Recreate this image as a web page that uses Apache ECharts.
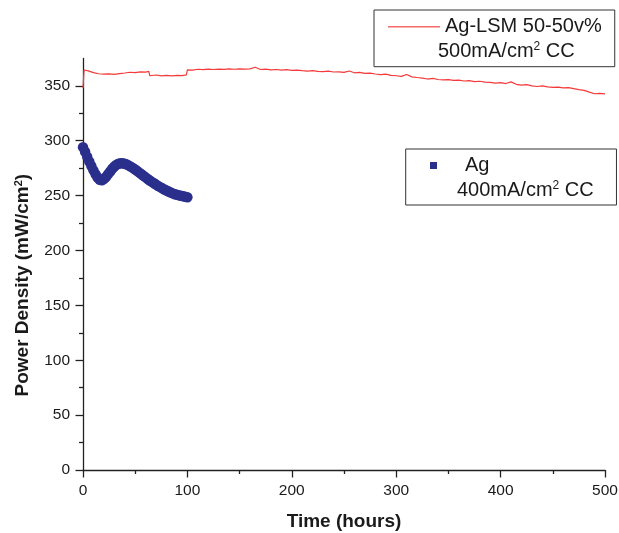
<!DOCTYPE html>
<html>
<head>
<meta charset="utf-8">
<script src="https://cdn.jsdelivr.net/npm/echarts@6/dist/echarts.min.js"></script>
<style>
html,body{margin:0;padding:0;background:#fff;}
#chart{width:619px;height:533px;}
</style>
</head>
<body>
<div id="chart"></div>
<script>
// ---- data ----
var redName = 'Ag-LSM 50-50v%';
var blueName = 'Ag';
var redTime = [0,1,5,10,15,20,25,30,35,40,45,50,55,60,63,64,65,70,75,80,85,90,95,99,100,105,110,115,120,125,130,135,140,145,150,155,160,165,170,175,180,185,190,195,200,205,210,215,220,225,230,235,240,245,250,255,260,265,270,275,280,285,290,295,300,305,310,315,320,325,330,335,340,345,350,355,360,365,370,375,380,385,390,395,400,405,410,415,420,425,430,435,440,445,450,455,460,465,470,475,480,485,490,495,500];
var redPower = [348,364.4,363.6,362,361,360.6,360.9,360.5,361.2,361.7,362.4,362.1,362.8,362.5,363.1,359.2,359.4,359.9,359.1,359.6,359,359.5,359.3,360,364.6,364.3,365.1,364.7,365.2,364.9,365.3,365,365.4,365.1,365.5,365.2,365.4,366.9,364.9,365.2,364.6,364.9,364.4,364.7,364.1,364.4,363.8,363.4,363.9,363.2,362.9,363.4,362.6,362.7,362.2,363.5,361.9,362.2,361.3,361.6,360.8,360.3,360.7,359.6,359.2,358.6,360.3,358.2,357.6,357.1,356.2,356.8,355.8,355.4,355.7,354.9,355.2,354.4,354.7,353.9,354.2,353.4,353.1,352.4,352.9,352.1,353.6,351.4,350.6,351.1,350,349.4,349.9,349,348.6,348.9,348.1,348.4,347.5,346.6,345.9,344.3,342.8,343.2,342.6];
var blueTime = [0,2,4,6,8,10,12,14,16,18,20,22,24,26,28,30,32,34,36,38,40,42,44,46,48,50,52,54,56,58,60,62,64,66,68,70,72,74,76,78,80,82,84,86,88,90,92,94,96,98,100];
var bluePower = [294,290,285.5,281,277,273,269.5,266.5,264.5,264,265,267,269.5,272,274.5,276.5,278,279,279.5,279.5,279,278.3,277.3,276.2,275,273.7,272.3,270.9,269.5,268,266.6,265.2,263.8,262.5,261.2,260,258.8,257.7,256.6,255.6,254.6,253.7,252.8,252,251.3,250.7,250.2,249.8,249.4,249,248.5];
var xMajorTicks = [0,100,200,300,400,500];
var xMinorTicks = [50,150,250,350,450];
var yMajorTicks = [0,50,100,150,200,250,300,350];
var yMinorTicks = [25,75,125,175,225,275,325];

function zip(a, b) { return a.map(function (v, i) { return [v, b[i]]; }); }

var FONT = 'Liberation Sans, Arial, Helvetica, sans-serif';
var INK = '#1a1a1a';
var AXC = '#222';

var chart = echarts.init(document.getElementById('chart'), null, {renderer: 'canvas'});

function baseX(extra) {
  return Object.assign({
    type: 'value', min: 0, max: 500, position: 'bottom',
    splitLine: {show: false},
    axisLine: {show: true, lineStyle: {color: AXC, width: 1.3}}
  }, extra);
}
function baseY(extra) {
  return Object.assign({
    type: 'value', min: 0, max: 375, position: 'left',
    splitLine: {show: false},
    axisLine: {show: true, lineStyle: {color: AXC, width: 1.3}}
  }, extra);
}

var option = {
  animation: false,
  backgroundColor: '#fff',
  grid: {left: 83, right: 14, top: 58.4, bottom: 63, containLabel: false, outerBoundsMode: 'none'},
  xAxis: [
    baseX({
      name: 'Time (hours)', nameLocation: 'middle', nameGap: 42,
      nameTextStyle: {fontFamily: FONT, fontWeight: 'bold', fontSize: 19, color: INK},
      axisTick: {show: true, length: 7.5, customValues: xMajorTicks, lineStyle: {color: AXC, width: 1.3}},
      axisLabel: {show: true, margin: 13, customValues: xMajorTicks, fontFamily: FONT, fontSize: 15.5, color: INK}
    }),
    baseX({
      axisLine: {show: false},
      axisTick: {show: true, length: 4, customValues: xMinorTicks, lineStyle: {color: AXC, width: 1.3}},
      axisLabel: {show: false}
    })
  ],
  yAxis: [
    baseY({
      name: 'Power Density (mW/cm{s|2})', nameLocation: 'middle', nameGap: 51,
      nameTextStyle: {fontFamily: FONT, fontWeight: 'bold', fontSize: 19, color: INK,
        padding: [0, 42, 0, 0],
        rich: {s: {fontFamily: FONT, fontWeight: 'bold', fontSize: 11, color: INK, verticalAlign: 'top', lineHeight: 12}}},
      axisTick: {show: true, length: 7.5, customValues: yMajorTicks, lineStyle: {color: AXC, width: 1.3}},
      axisLabel: {show: true, margin: 13, customValues: yMajorTicks, fontFamily: FONT, fontSize: 15.5, color: INK}
    }),
    baseY({
      axisLine: {show: false},
      axisTick: {show: true, length: 4, customValues: yMinorTicks, lineStyle: {color: AXC, width: 1.3}},
      axisLabel: {show: false}
    })
  ],
  legend: [
    {
      data: [{name: redName, icon: 'rect'}], left: 374, top: 10, orient: 'horizontal',
      padding: [6.7, 13, 30, 14], itemWidth: 52, itemHeight: 1.4,
      itemStyle: {color: '#f56a6a'},
      borderColor: '#333', borderWidth: 1, backgroundColor: '#fff',
      textStyle: {fontFamily: FONT, fontSize: 20, color: INK, lineHeight: 20},
      selectedMode: false
    },
    {
      data: [{name: blueName, icon: 'rect'}], left: 405.7, top: 149, orient: 'horizontal',
      padding: [6.5, 127, 29.5, 24.3], itemWidth: 7, itemHeight: 7,
      itemStyle: {color: '#2b2f8c', opacity: 1},
      borderColor: '#333', borderWidth: 1, backgroundColor: '#fff',
      formatter: '{a|{name}}',
      textStyle: {fontFamily: FONT, fontSize: 20, color: INK, lineHeight: 20,
        rich: {a: {fontFamily: FONT, fontSize: 20, color: INK, padding: [0, 0, 0, 23]}}},
      selectedMode: false
    }
  ],
  graphic: [
    {
      type: 'text', left: 438, top: 41, z: 100,
      style: {text: '500mA/cm{s|2} CC', fontFamily: FONT, fontSize: 20, fill: INK,
        rich: {s: {fontFamily: FONT, fontSize: 12, fill: INK, verticalAlign: 'top', lineHeight: 12}}}
    },
    {
      type: 'text', left: 457, top: 180, z: 100,
      style: {text: '400mA/cm{s|2} CC', fontFamily: FONT, fontSize: 20, fill: INK,
        rich: {s: {fontFamily: FONT, fontSize: 12, fill: INK, verticalAlign: 'top', lineHeight: 12}}}
    }
  ],
  series: [
    {
      name: redName, type: 'line', data: zip(redTime, redPower),
      symbol: 'none', showSymbol: false, smooth: false,
      lineStyle: {color: '#f43a3a', width: 1.2},
      itemStyle: {color: '#f43a3a'},
      xAxisIndex: 0, yAxisIndex: 0, z: 3
    },
    {
      name: blueName, type: 'scatter', data: zip(blueTime, bluePower),
      symbol: 'circle', symbolSize: 10.5,
      itemStyle: {color: '#2b2f8c', opacity: 1},
      xAxisIndex: 0, yAxisIndex: 0, z: 4
    }
  ]
};
chart.setOption(option);
</script>
</body>
</html>
